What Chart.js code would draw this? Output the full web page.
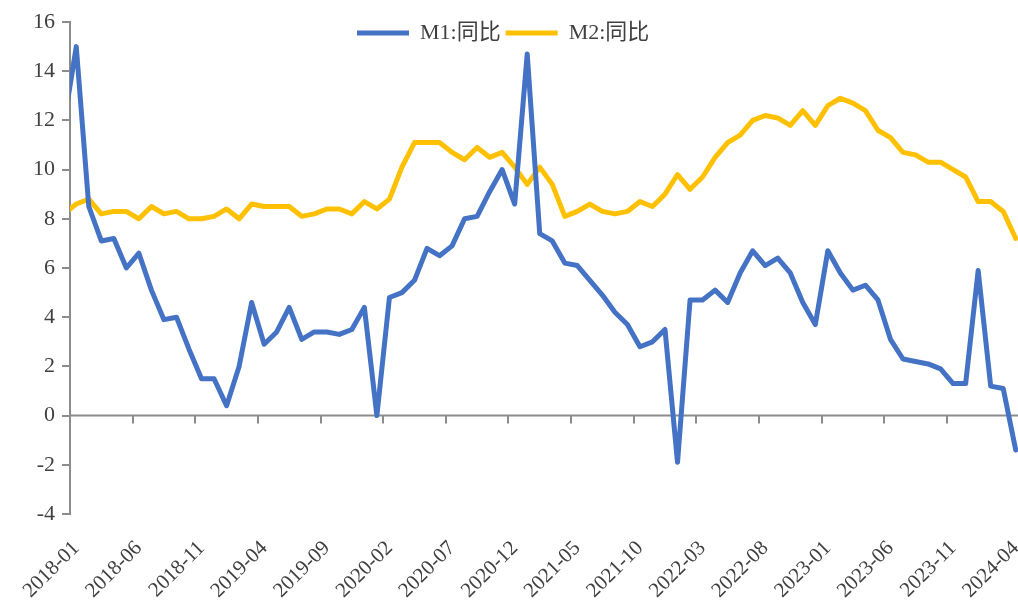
<!DOCTYPE html>
<html>
<head>
<meta charset="utf-8">
<script src="https://cdn.jsdelivr.net/npm/chart.js@4.4.0/dist/chart.umd.min.js"></script>
<style>
body { margin: 0; overflow: hidden; background: #fff; }
#wrap { width: 1022px; height: 600px; }
</style>
</head>
<body>
<div id="wrap"><canvas id="myChart"></canvas></div>
<script>
// months, 2017-12 .. 2024-04 (first one only shows as the clipped start of the lines)
var months = [
	'2017-12',
	'2018-01', '2018-02', '2018-03', '2018-04', '2018-05', '2018-06', '2018-07', '2018-08', '2018-09', '2018-10', '2018-11', '2018-12',
	'2019-01', '2019-02', '2019-03', '2019-04', '2019-05', '2019-06', '2019-07', '2019-08', '2019-09', '2019-10', '2019-11', '2019-12',
	'2020-01', '2020-02', '2020-03', '2020-04', '2020-05', '2020-06', '2020-07', '2020-08', '2020-09', '2020-10', '2020-11', '2020-12',
	'2021-01', '2021-02', '2021-03', '2021-04', '2021-05', '2021-06', '2021-07', '2021-08', '2021-09', '2021-10', '2021-11', '2021-12',
	'2022-01', '2022-02', '2022-03', '2022-04', '2022-05', '2022-06', '2022-07', '2022-08', '2022-09', '2022-10', '2022-11', '2022-12',
	'2023-01', '2023-02', '2023-03', '2023-04', '2023-05', '2023-06', '2023-07', '2023-08', '2023-09', '2023-10', '2023-11', '2023-12',
	'2024-01', '2024-02', '2024-03', '2024-04'
];

var m1 = [
	11.8,
	15.0, 8.5, 7.1, 7.2, 6.0, 6.6, 5.1, 3.9, 4.0, 2.7, 1.5, 1.5,
	0.4, 2.0, 4.6, 2.9, 3.4, 4.4, 3.1, 3.4, 3.4, 3.3, 3.5, 4.4,
	0.0, 4.8, 5.0, 5.5, 6.8, 6.5, 6.9, 8.0, 8.1, 9.1, 10.0, 8.6,
	14.7, 7.4, 7.1, 6.2, 6.1, 5.5, 4.9, 4.2, 3.7, 2.8, 3.0, 3.5,
	-1.9, 4.7, 4.7, 5.1, 4.6, 5.8, 6.7, 6.1, 6.4, 5.8, 4.6, 3.7,
	6.7, 5.8, 5.1, 5.3, 4.7, 3.1, 2.3, 2.2, 2.1, 1.9, 1.3, 1.3,
	5.9, 1.2, 1.1, -1.4
];

var m2 = [
	8.2,
	8.6, 8.8, 8.2, 8.3, 8.3, 8.0, 8.5, 8.2, 8.3, 8.0, 8.0, 8.1,
	8.4, 8.0, 8.6, 8.5, 8.5, 8.5, 8.1, 8.2, 8.4, 8.4, 8.2, 8.7,
	8.4, 8.8, 10.1, 11.1, 11.1, 11.1, 10.7, 10.4, 10.9, 10.5, 10.7, 10.1,
	9.4, 10.1, 9.4, 8.1, 8.3, 8.6, 8.3, 8.2, 8.3, 8.7, 8.5, 9.0,
	9.8, 9.2, 9.7, 10.5, 11.1, 11.4, 12.0, 12.2, 12.1, 11.8, 12.4, 11.8,
	12.6, 12.9, 12.7, 12.4, 11.6, 11.3, 10.7, 10.6, 10.3, 10.3, 10.0, 9.7,
	8.7, 8.7, 8.3, 7.2
];

// which months get a label on the x axis (index into months)
var tickIdx = [1, 6, 11, 16, 21, 26, 31, 36, 41, 46, 51, 56, 61, 66, 71, 76];

var axisColor = '#8c8c8c';
var textColor = '#404040';
var fontFamily = "'Liberation Serif', 'Noto Sans CJK SC', serif";

function toPoints(arr) {
	return arr.map(function(v, i) { return {x: i, y: v}; });
}

// horizontal axis sits at y = 0, tick marks between the months
var zeroAxis = {
	id: 'zeroAxis',
	beforeDatasetsDraw: function(chart) {
		var ctx = chart.ctx, xs = chart.scales.x, ys = chart.scales.y;
		var area = chart.chartArea;
		var y0 = ys.getPixelForValue(0);
		ctx.save();
		ctx.strokeStyle = axisColor;
		ctx.lineWidth = 2;
		ctx.beginPath();
		ctx.moveTo(area.left, y0);
		ctx.lineTo(area.right, y0);
		for (var i = 0; i < tickIdx.length; i++) {
			var px = Math.round(xs.getPixelForValue(tickIdx[i] - 0.5));
			ctx.moveTo(px, y0);
			ctx.lineTo(px, y0 + 8);
		}
		ctx.stroke();
		ctx.restore();
	}
};

// legend floats over the top of the plot, like in excel
var legendPlace = {
	id: 'legendPlace',
	afterLayout: function(chart) {
		var lg = chart.legend;
		lg.left = 352;
		lg.right = lg.left + 900;
		lg.top = 17;
		lg.bottom = lg.top + 40;
	}
};

var ctx = document.getElementById('myChart');
var myChart = new Chart(ctx, {
	type: 'line',
	data: {
		datasets: [{
			label: 'M1:同比',
			data: toPoints(m1),
			borderColor: '#4472C4',
			backgroundColor: '#4472C4',
			borderWidth: 5,
			borderCapStyle: 'round',
			borderJoinStyle: 'round',
			pointRadius: 0,
			tension: 0,
			clip: 0
		}, {
			label: 'M2:同比',
			data: toPoints(m2),
			borderColor: '#FFC000',
			backgroundColor: '#FFC000',
			borderWidth: 5,
			borderCapStyle: 'round',
			borderJoinStyle: 'round',
			pointRadius: 0,
			tension: 0,
			clip: 0
		}]
	},
	options: {
		responsive: true,
		maintainAspectRatio: false,
		animation: false,
		events: [],
		layout: {
			padding: {top: 21, left: 0, right: 0, bottom: 0}
		},
		scales: {
			x: {
				type: 'linear',
				min: 0.5,
				max: 76.5,
				grid: {display: false},
				border: {display: false},
				afterBuildTicks: function(scale) {
					scale.ticks = tickIdx.map(function(v) { return {value: v}; });
				},
				afterFit: function(scale) {
					scale.height = 86;
					scale.paddingLeft = 0;
					scale.paddingRight = 0;
				},
				ticks: {
					autoSkip: false,
					minRotation: 45,
					maxRotation: 45,
					padding: 14,
					color: textColor,
					font: {family: fontFamily, size: 21},
					callback: function(value) { return months[value]; }
				}
			},
			y: {
				min: -4,
				max: 16,
				grid: {
					drawOnChartArea: false,
					tickLength: 8,
					color: axisColor,
					lineWidth: 2
				},
				border: {color: axisColor, width: 2},
				afterFit: function(scale) {
					scale.width = 70;
					scale.paddingTop = 0;
					scale.paddingBottom = 0;
				},
				ticks: {
					stepSize: 2,
					padding: 7,
					color: textColor,
					font: {family: fontFamily, size: 22}
				}
			}
		},
		plugins: {
			legend: {
				position: 'top',
				align: 'start',
				maxHeight: 1,
				labels: {
					usePointStyle: true,
					pointStyle: 'line',
					pointStyleWidth: 52,
					padding: 5,
					color: textColor,
					font: {family: fontFamily, size: 22}
				}
			},
			tooltip: {enabled: false}
		}
	},
	plugins: [zeroAxis, legendPlace]
});
</script>
</body>
</html>
